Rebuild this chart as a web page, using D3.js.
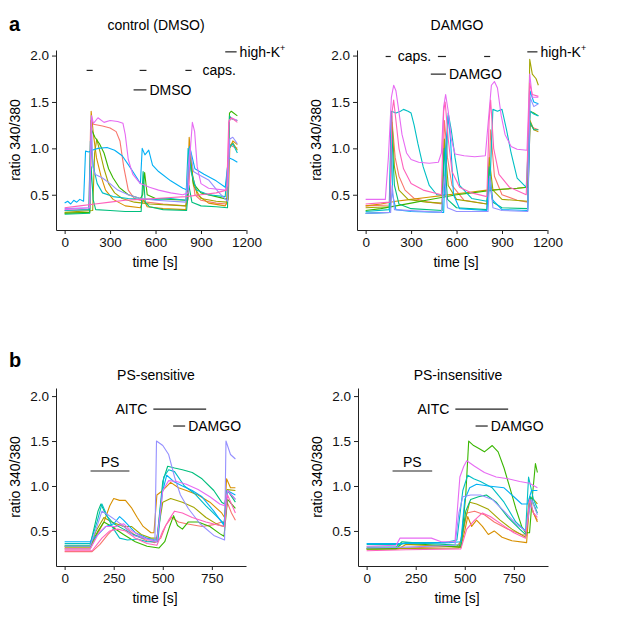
<!DOCTYPE html>
<html>
<head>
<meta charset="utf-8">
<script src="https://cdn.jsdelivr.net/npm/d3@7"></script>
<style>
  body { margin: 0; background: #fff; }
  svg { font-family: "Liberation Sans", Arial, sans-serif; }
</style>
</head>
<body>
<div id="fig"></div>
<script>
// palette for up to 10 cells (ggplot hue order)
const cellColors = ["#F8766D", "#D89000", "#A3A500", "#39B600", "#00BF7D",
                    "#00BFC4", "#00B0F6", "#9590FF", "#E76BF3", "#FF62BC"];

// ---- panel a, control (DMSO) : [time, ratio] per cell
const ctrlTraces = [
  { cell: 0, pts: [[0,0.33],[160,0.34],[172,1.3],[190,1.26],[250,1.24],[300,1.22],[340,1.18],[365,1.08],[390,0.8],[420,0.55],[460,0.46],[540,0.42],[650,0.4],[800,0.38],[815,0.45],[830,0.9],[860,0.5],[900,0.44],[1000,0.41],[1070,0.4],[1085,1.05],[1110,1.02],[1140,1.0]] },
  { cell: 1, pts: [[0,0.3],[165,0.31],[175,1.4],[190,1.15],[210,0.9],[240,0.7],[270,0.55],[320,0.45],[400,0.38],[500,0.36],[520,0.45],[545,0.37],[650,0.35],[800,0.34],[812,0.6],[822,1.12],[845,0.7],[875,0.5],[950,0.41],[1060,0.38],[1080,0.45],[1090,1.0],[1110,1.08],[1140,1.04]] },
  { cell: 2, pts: [[0,0.31],[185,0.33],[198,0.95],[212,1.1],[235,0.95],[260,0.78],[290,0.62],[330,0.52],[380,0.46],[460,0.42],[520,0.41],[560,0.4],[800,0.38],[815,0.6],[830,0.95],[850,0.6],[900,0.46],[1000,0.43],[1070,0.42],[1088,1.02],[1110,1.06],[1140,0.98]] },
  { cell: 3, pts: [[0,0.3],[165,0.31],[178,1.2],[200,1.12],[230,1.05],[260,0.95],[290,0.78],[320,0.68],[360,0.58],[420,0.5],[500,0.46],[515,0.5],[528,0.74],[545,0.5],[600,0.46],[700,0.45],[805,0.44],[825,0.88],[850,0.62],[900,0.52],[1000,0.48],[1075,0.45],[1088,1.38],[1100,1.4],[1140,1.35]] },
  { cell: 4, pts: [[0,0.29],[165,0.3],[175,0.8],[188,0.45],[205,0.34],[300,0.33],[400,0.32],[505,0.32],[518,0.75],[532,0.42],[560,0.37],[650,0.34],[805,0.33],[820,0.6],[840,0.42],[900,0.38],[1000,0.37],[1075,0.36],[1088,1.35],[1100,1.32],[1140,1.3]] },
  { cell: 5, pts: [[0,0.33],[160,0.34],[170,1.08],[190,0.8],[215,0.62],[250,0.52],[320,0.48],[420,0.46],[500,0.45],[600,0.45],[700,0.46],[800,0.44],[815,1.0],[835,0.75],[870,0.55],[950,0.5],[1060,0.48],[1085,1.0],[1110,1.05],[1140,0.95]] },
  { cell: 6, pts: [[0,0.41],[20,0.43],[40,0.4],[60,0.44],[80,0.42],[100,0.45],[125,0.43],[138,0.97],[160,0.96],[180,0.98],[220,1.0],[280,1.01],[330,0.98],[380,0.92],[430,0.8],[470,0.7],[500,0.62],[512,1.0],[530,0.93],[555,0.98],[580,0.82],[620,0.75],[700,0.65],[780,0.57],[810,0.55],[825,1.02],[860,0.78],[920,0.72],[1000,0.65],[1060,0.58],[1082,0.9],[1110,0.88],[1140,0.85]] },
  { cell: 7, pts: [[0,0.35],[165,0.36],[176,1.35],[186,0.8],[200,0.72],[250,0.68],[300,0.62],[350,0.55],[420,0.5],[500,0.46],[600,0.44],[800,0.42],[815,0.8],[828,1.0],[850,0.75],[880,0.72],[950,0.66],[1020,0.52],[1075,0.43],[1090,1.1],[1110,1.12],[1140,1.05]] },
  { cell: 8, pts: [[0,0.34],[165,0.36],[178,1.35],[190,1.27],[220,1.33],[260,1.28],[300,1.3],[350,1.29],[385,1.27],[400,1.15],[420,0.88],[450,0.72],[500,0.62],[560,0.58],[620,0.55],[700,0.52],[780,0.5],[815,0.52],[828,0.95],[843,1.28],[858,1.18],[875,0.8],[900,0.62],[950,0.57],[1060,0.55],[1075,0.6],[1085,1.3],[1100,1.33],[1140,1.3]] },
  { cell: 9, pts: [[0,0.36],[100,0.38],[200,0.4],[300,0.42],[400,0.44],[500,0.45],[600,0.46],[700,0.47],[800,0.48],[900,0.5],[1000,0.52],[1070,0.55],[1083,1.28],[1100,1.33],[1140,1.28]] }
];

// ---- panel a, DAMGO
const damgoTraces = [
  { cell: 0, pts: [[0,0.38],[160,0.39],[175,1.28],[195,0.9],[220,0.7],[260,0.55],[320,0.46],[420,0.42],[505,0.4],[520,1.3],[540,0.9],[570,0.6],[650,0.44],[800,0.4],[812,0.6],[825,1.2],[850,0.7],[900,0.5],[1000,0.44],[1070,0.42],[1085,1.25],[1110,1.22],[1140,1.2]] },
  { cell: 1, pts: [[0,0.38],[100,0.4],[200,0.43],[300,0.45],[400,0.47],[500,0.49],[600,0.51],[700,0.53],[800,0.55],[900,0.56],[1000,0.57],[1070,0.58],[1085,1.3],[1110,1.2],[1140,1.18]] },
  { cell: 2, pts: [[0,0.36],[160,0.37],[172,1.35],[190,0.8],[220,0.55],[280,0.45],[400,0.42],[505,0.41],[520,1.1],[545,0.6],[600,0.45],[800,0.4],[815,0.9],[840,0.55],[900,0.45],[1070,0.43],[1083,1.96],[1100,1.8],[1125,1.75],[1140,1.68]] },
  { cell: 3, pts: [[0,0.33],[100,0.35],[200,0.38],[300,0.41],[400,0.44],[500,0.47],[600,0.5],[700,0.52],[800,0.54],[900,0.56],[1000,0.57],[1070,0.58],[1085,1.4],[1110,1.38],[1140,1.35]] },
  { cell: 4, pts: [[0,0.3],[160,0.31],[172,1.2],[190,0.6],[220,0.4],[300,0.35],[505,0.33],[518,1.0],[540,0.45],[600,0.36],[800,0.34],[815,0.8],[840,0.42],[900,0.36],[1070,0.35],[1085,1.28],[1110,1.2],[1140,1.2]] },
  { cell: 5, pts: [[0,0.32],[155,0.34],[170,1.4],[200,1.38],[230,1.4],[250,1.42],[280,1.4],[300,1.38],[320,1.25],[345,1.05],[380,0.8],[420,0.6],[470,0.5],[525,0.5],[545,1.38],[565,1.2],[590,0.9],[620,0.6],[700,0.46],[800,0.43],[820,0.6],[840,1.42],[870,1.4],[900,1.42],[930,1.2],[960,0.95],[1000,0.68],[1060,0.58],[1085,1.4],[1110,1.37],[1140,1.35]] },
  { cell: 6, pts: [[0,0.3],[160,0.31],[168,1.35],[178,0.5],[200,0.34],[300,0.32],[515,0.31],[528,1.0],[545,1.35],[560,1.1],[580,0.5],[620,0.35],[800,0.33],[815,0.68],[835,0.45],[900,0.34],[1070,0.33],[1085,1.62],[1110,1.5],[1140,1.48]] },
  { cell: 7, pts: [[0,0.3],[165,0.31],[175,0.6],[190,0.34],[500,0.31],[520,0.7],[540,0.36],[600,0.32],[808,0.32],[820,0.7],[840,0.36],[900,0.33],[1070,0.32],[1085,1.55],[1110,1.45],[1140,1.48]] },
  { cell: 8, pts: [[0,0.45],[130,0.45],[150,0.9],[170,1.55],[185,1.68],[200,1.62],[215,1.45],[240,1.15],[270,0.95],[300,0.88],[350,0.85],[420,0.84],[480,0.85],[500,0.95],[515,1.45],[528,1.58],[545,1.4],[565,1.1],[590,0.94],[650,0.92],[720,0.91],[790,0.92],[810,1.3],[830,1.68],[850,1.72],[870,1.65],[895,1.35],[920,1.15],[960,1.02],[1000,0.99],[1065,0.98],[1083,1.8],[1100,1.55],[1140,1.55]] },
  { cell: 9, pts: [[0,0.4],[160,0.42],[175,1.4],[185,1.52],[200,1.3],[220,1.0],[250,0.78],[300,0.62],[380,0.55],[500,0.5],[515,1.4],[525,1.5],[545,1.1],[570,0.75],[620,0.58],[700,0.52],[800,0.48],[815,1.3],[825,1.52],[845,1.0],[880,0.72],[950,0.58],[1060,0.5],[1083,1.7],[1100,1.58],[1140,1.56]] }
];

// ---- panel b, PS-sensitive
const psSensTraces = [
  { cell: 0, pts: [[0,0.27],[140,0.27],[180,0.35],[220,0.46],[260,0.55],[285,0.58],[320,0.52],[360,0.45],[420,0.39],[460,0.37],[490,0.42],[515,0.56],[545,0.65],[580,0.6],[620,0.58],[700,0.55],[760,0.57],[800,0.6],[815,0.6],[828,0.82],[850,0.7],[870,0.62]] },
  { cell: 1, pts: [[0,0.3],[130,0.3],[170,0.48],[200,0.6],[230,0.78],[250,0.86],[280,0.84],[310,0.84],[340,0.76],[370,0.65],[400,0.55],[440,0.48],[455,0.48],[470,0.9],[500,0.95],[540,1.04],[580,0.98],[620,0.95],[680,0.9],[740,0.82],[800,0.7],[815,0.65],[825,1.08],[845,0.98],[870,0.98]] },
  { cell: 2, pts: [[0,0.32],[130,0.32],[160,0.5],[200,0.65],[240,0.6],[300,0.55],[340,0.55],[390,0.46],[440,0.42],[470,0.42],[500,0.82],[540,0.86],[600,0.82],[660,0.76],[720,0.65],[780,0.57],[812,0.55],[828,0.96],[870,0.95]] },
  { cell: 3, pts: [[0,0.33],[130,0.33],[170,0.5],[200,0.6],[240,0.55],[300,0.46],[360,0.38],[420,0.33],[480,0.31],[510,0.38],[535,0.55],[555,0.67],[575,0.56],[600,0.52],[630,0.6],[680,0.6],[740,0.55],[790,0.47],[812,0.44],[830,0.85],[870,0.75]] },
  { cell: 4, pts: [[0,0.34],[130,0.34],[170,0.72],[185,0.8],[210,0.68],[250,0.58],[300,0.52],[350,0.46],[400,0.42],[470,0.4],[500,1.05],[525,1.22],[560,1.2],[600,1.18],[650,1.15],[700,1.08],[760,0.95],[800,0.82],[815,0.8],[830,0.95],[870,0.82]] },
  { cell: 5, pts: [[0,0.36],[130,0.36],[165,0.6],[190,0.8],[220,0.65],[250,0.52],[280,0.42],[320,0.4],[370,0.41],[420,0.38],[475,0.38],[505,1.1],[530,1.18],[560,1.16],[610,1.0],[660,0.92],[720,0.78],[780,0.65],[812,0.58],[828,0.95],[870,0.85]] },
  { cell: 6, pts: [[0,0.38],[130,0.38],[170,0.46],[210,0.55],[250,0.58],[280,0.66],[300,0.62],[330,0.55],[360,0.48],[420,0.42],[470,0.38],[495,0.9],[520,1.12],[555,1.05],[600,1.0],[650,0.95],[700,0.88],[760,0.72],[812,0.56],[828,0.95],[870,0.9]] },
  { cell: 7, pts: [[0,0.33],[130,0.33],[165,0.55],[190,0.72],[220,0.68],[260,0.62],[300,0.55],[350,0.45],[420,0.41],[460,0.4],[468,1.5],[500,1.45],[530,1.35],[560,1.1],[590,0.9],[630,0.75],[690,0.58],[760,0.45],[815,0.4],[822,1.5],[845,1.35],[870,1.3]] },
  { cell: 8, pts: [[0,0.3],[130,0.3],[175,0.48],[210,0.55],[260,0.55],[300,0.58],[330,0.52],[380,0.45],[430,0.4],[470,0.38],[500,0.95],[530,1.06],[570,1.05],[620,1.02],[680,0.96],[740,0.88],[790,0.8],[815,0.78],[830,0.95],[870,0.85]] },
  { cell: 9, pts: [[0,0.28],[140,0.28],[190,0.42],[230,0.5],[270,0.52],[310,0.5],[360,0.42],[420,0.36],[470,0.34],[500,0.5],[530,0.62],[560,0.72],[600,0.7],[650,0.65],[720,0.6],[790,0.56],[815,0.55],[830,0.9],[870,0.7]] }
];

// ---- panel b, PS-insensitive
const psInsTraces = [
  { cell: 0, pts: [[0,0.3],[200,0.31],[460,0.33],[485,0.4],[510,0.7],[550,0.72],[600,0.68],[650,0.6],[720,0.52],[790,0.46],[815,0.45],[830,0.85],[850,0.7],[870,0.62]] },
  { cell: 1, pts: [[0,0.3],[160,0.3],[200,0.35],[480,0.32],[500,0.5],[515,0.66],[535,0.55],[560,0.62],[590,0.55],[620,0.46],[650,0.5],[690,0.43],[740,0.39],[815,0.37],[830,0.82],[850,0.7],[870,0.6]] },
  { cell: 2, pts: [[0,0.3],[470,0.31],[500,0.6],[525,0.82],[560,0.8],[620,0.74],[680,0.62],[740,0.52],[810,0.43],[830,0.88],[850,0.85],[870,0.8]] },
  { cell: 3, pts: [[0,0.3],[150,0.3],[180,0.36],[300,0.35],[480,0.32],[505,0.9],[520,1.5],[545,1.45],[570,1.42],[600,1.38],[640,1.45],[670,1.38],[700,1.2],[730,0.98],[760,0.75],[790,0.55],[810,0.48],[830,0.48],[845,0.9],[860,1.25],[870,1.15]] },
  { cell: 4, pts: [[0,0.32],[150,0.32],[180,0.38],[300,0.36],[480,0.34],[505,0.72],[530,0.85],[570,0.88],[610,0.9],[660,0.82],[720,0.65],[780,0.52],[810,0.46],[835,0.88],[870,0.7]] },
  { cell: 5, pts: [[0,0.35],[170,0.35],[200,0.37],[400,0.37],[460,0.4],[490,0.95],[515,1.12],[545,1.08],[580,1.05],[640,0.98],[700,0.82],[760,0.6],[810,0.5],[825,1.1],[850,0.85],[870,0.75]] },
  { cell: 6, pts: [[0,0.36],[200,0.36],[420,0.37],[480,0.38],[500,0.85],[525,0.98],[560,1.02],[620,1.0],[700,0.98],[750,0.88],[790,0.8],[820,0.8],[840,0.95],[870,0.95]] },
  { cell: 7, pts: [[0,0.31],[200,0.32],[450,0.34],[470,0.7],[490,0.88],[530,0.9],[580,0.9],[640,0.85],[700,0.72],[760,0.58],[810,0.5],[840,0.85],[870,0.68]] },
  { cell: 8, pts: [[0,0.33],[150,0.34],[170,0.42],[250,0.42],[330,0.42],[380,0.38],[450,0.38],[475,1.1],[495,1.22],[510,1.28],[550,1.22],[600,1.15],[660,1.1],[720,1.08],[780,1.05],[830,1.03],[870,0.98]] },
  { cell: 9, pts: [[0,0.28],[200,0.29],[480,0.3],[510,0.52],[550,0.62],[590,0.7],[630,0.66],[690,0.57],[750,0.48],[810,0.42],[830,0.85],[850,0.7],[870,0.65]] }
];

// ---- stimulus bars [start, end] in s, and the ratio level they sit at
const ctrlStim = [
  { lab: "high-K", sup: "+", t0: 1060, t1: 1135, y: 2.04 },
  { lab: "", t0: 145, t1: 185, y: 1.84 },
  { lab: "", t0: 495, t1: 540, y: 1.84 },
  { lab: "caps.", t0: 797, t1: 837, y: 1.84, gap: 11 },
  { lab: "DMSO", t0: 455, t1: 540, y: 1.63 }
];
const damgoStim = [
  { lab: "high-K", sup: "+", t0: 1067, t1: 1134, y: 2.04 },
  { lab: "caps.", t0: 132, t1: 166, y: 1.99, gap: 7 },
  { lab: "", t0: 477, t1: 530, y: 1.99 },
  { lab: "", t0: 782, t1: 822, y: 1.99 },
  { lab: "DAMGO", t0: 430, t1: 530, y: 1.80 }
];
const psSensStim = [
  { lab: "AITC", t0: 452, t1: 721, y: 1.855, left: true },
  { lab: "DAMGO", t0: 553, t1: 614, y: 1.667 },
  { lab: "PS", t0: 132, t1: 330, y: 1.167, above: true }
];
const psInsStim = [
  { lab: "AITC", t0: 452, t1: 721, y: 1.855, left: true },
  { lab: "DAMGO", t0: 555, t1: 617, y: 1.667 },
  { lab: "PS", t0: 132, t1: 334, y: 1.167, above: true }
];

const xTicksA = [0, 300, 600, 900, 1200];
const xTicksB = [0, 250, 500, 750];
const yTicks = [0.5, 1.0, 1.5, 2.0];

const W = 617, H = 631;
const svg = d3.select("#fig").append("svg").attr("width", W).attr("height", H);

const color = d3.scaleOrdinal().domain(d3.range(10)).range(cellColors);

function styleAxis(ax) {
  ax.selectAll("path, line").attr("stroke", "#222");
  ax.selectAll("text").style("font-size", "13.5px").attr("fill", "#111")
    .style("font-family", "'Liberation Sans', Arial, sans-serif");
}

function panel(opt) {
  const g = svg.append("g");
  const x = d3.scaleLinear().domain(opt.xDom).range([opt.left, opt.left + 190]);
  const y = d3.scaleLinear().domain(opt.yDom).range([opt.bottom, opt.top]);

  const xa = g.append("g")
    .attr("transform", `translate(0,${opt.bottom})`)
    .call(d3.axisBottom(x).tickValues(opt.xTicks).tickFormat(d3.format("d"))
      .tickSize(4).tickSizeOuter(0).tickPadding(3));
  const ya = g.append("g")
    .attr("transform", `translate(${opt.left},0)`)
    .call(d3.axisLeft(y).tickValues(yTicks).tickFormat(d3.format(".1f"))
      .tickSize(4).tickSizeOuter(0).tickPadding(3));
  styleAxis(xa);
  styleAxis(ya);

  const line = d3.line().x(d => x(d[0])).y(d => y(d[1]));
  g.append("g").selectAll("path")
    .data(opt.traces)
    .join("path")
    .attr("d", d => line(d.pts))
    .attr("fill", "none")
    .attr("stroke", d => color(d.cell))
    .attr("stroke-width", 1.1)
    .attr("stroke-linejoin", "round");

  // stimulus bars and labels
  opt.stim.forEach(s => {
    const yy = y(s.y);
    g.append("line")
      .attr("x1", x(s.t0)).attr("x2", x(s.t1))
      .attr("y1", yy).attr("y2", yy)
      .attr("stroke", "#222").attr("stroke-width", 1.2);
    if (!s.lab) return;
    let t;
    if (s.above) {
      t = g.append("text").attr("x", (x(s.t0) + x(s.t1)) / 2).attr("y", yy - 4)
        .attr("text-anchor", "middle");
    } else if (s.left) {
      t = g.append("text").attr("x", x(s.t0) - 6).attr("y", yy + 5)
        .attr("text-anchor", "end");
    } else {
      t = g.append("text").attr("x", x(s.t1) + (s.gap || 3)).attr("y", yy + 5);
    }
    t.style("font-size", "14px").text(s.lab);
    if (s.sup) {
      t.append("tspan").attr("dy", -6).style("font-size", "9px").text(s.sup);
    }
  });

  // titles
  g.append("text")
    .attr("x", opt.left + 100).attr("y", opt.titleY)
    .attr("text-anchor", "middle").style("font-size", "14px")
    .text(opt.title);
  g.append("text")
    .attr("x", opt.left + 99).attr("y", opt.bottom + 37)
    .attr("text-anchor", "middle").style("font-size", "14px")
    .text("time [s]");
  g.append("text")
    .attr("transform", `translate(${opt.left - 36},${(opt.top + opt.bottom) / 2}) rotate(-90)`)
    .attr("text-anchor", "middle").style("font-size", "14px")
    .text("ratio 340/380");
}

panel({ left: 56, top: 50, bottom: 230, xDom: [-57, 1197], yDom: [0.12, 2.06],
        xTicks: xTicksA, traces: ctrlTraces, stim: ctrlStim, title: "control (DMSO)", titleY: 30 });
panel({ left: 357, top: 50, bottom: 230, xDom: [-57, 1197], yDom: [0.12, 2.06],
        xTicks: xTicksA, traces: damgoTraces, stim: damgoStim, title: "DAMGO", titleY: 30 });
panel({ left: 56, top: 388, bottom: 566, xDom: [-44, 924], yDom: [0.11, 2.09],
        xTicks: xTicksB, traces: psSensTraces, stim: psSensStim, title: "PS-sensitive", titleY: 380 });
panel({ left: 358, top: 388, bottom: 566, xDom: [-44, 924], yDom: [0.11, 2.09],
        xTicks: xTicksB, traces: psInsTraces, stim: psInsStim, title: "PS-insensitive", titleY: 380 });

// panel letters
svg.append("text").attr("x", 9).attr("y", 31).style("font-size", "20px").style("font-weight", "bold").text("a");
svg.append("text").attr("x", 9).attr("y", 367).style("font-size", "20px").style("font-weight", "bold").text("b");
</script>
</body>
</html>
